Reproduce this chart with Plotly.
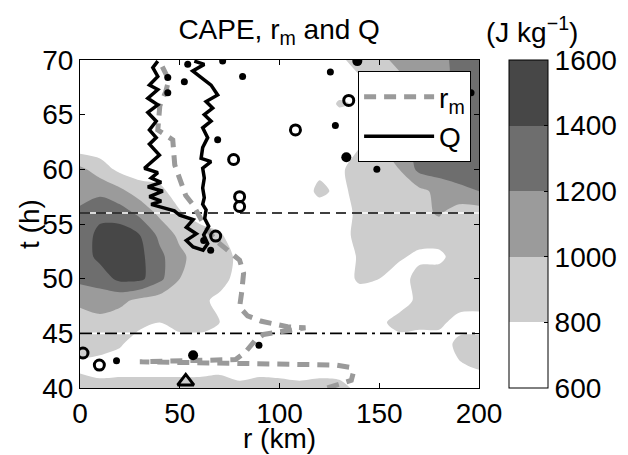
import plotly.graph_objects as go

# ---------------- data ----------------
r_km = [0, 10, 20, 30, 40, 50, 60, 70, 80, 90, 100, 110, 120, 130, 140, 150, 160, 170, 180, 190, 200]
t_h = [40, 42, 44, 46, 48, 50, 52, 54, 56, 58, 60, 62, 64, 66, 68, 70]

cape = [
    [900, 880, 900, 900, 900, 900, 900, 950, 850, 900, 880, 850, 880, 860, 750, 700, 700, 700, 700, 700, 700],   # 40
    [750, 700, 700, 700, 700, 700, 700, 700, 700, 700, 700, 700, 700, 700, 700, 700, 700, 700, 700, 780, 820],   # 42
    [900, 900, 820, 700, 700, 700, 700, 700, 700, 700, 700, 700, 700, 700, 700, 700, 700, 700, 700, 850, 900],   # 44
    [900, 950, 900, 850, 800, 880, 900, 800, 700, 700, 700, 700, 700, 700, 700, 750, 880, 850, 850, 720, 700],   # 46
    [1050, 1080, 1050, 950, 900, 900, 850, 750, 700, 700, 700, 700, 700, 700, 700, 700, 700, 850, 900, 900, 900],  # 48
    [1250, 1300, 1450, 1450, 1250, 1000, 900, 880, 720, 700, 700, 700, 700, 700, 830, 800, 700, 880, 900, 900, 900],  # 50
    [1300, 1450, 1500, 1450, 1250, 1050, 900, 880, 760, 700, 700, 700, 700, 700, 820, 850, 830, 750, 750, 900, 900],  # 52
    [1300, 1450, 1500, 1400, 1150, 950, 900, 820, 700, 700, 700, 700, 700, 720, 860, 900, 880, 900, 900, 900, 900],  # 54
    [1300, 1350, 1300, 1150, 950, 820, 700, 700, 700, 700, 700, 700, 700, 700, 850, 900, 820, 950, 1020, 900, 900],  # 56
    [1000, 1150, 1050, 900, 850, 700, 700, 700, 700, 700, 700, 700, 840, 760, 850, 900, 900, 950, 1050, 1150, 1200],  # 58
    [1050, 900, 750, 700, 700, 700, 700, 700, 700, 700, 700, 700, 760, 760, 900, 900, 1000, 1250, 1300, 1300, 1300],  # 60
    [700, 700, 700, 700, 700, 700, 700, 700, 700, 700, 700, 700, 700, 800, 800, 950, 1100, 1250, 1300, 1350, 1300],  # 62
    [700, 700, 700, 700, 700, 700, 700, 700, 700, 700, 700, 700, 700, 700, 750, 900, 1050, 1200, 1300, 1300, 1350],  # 64
    [700, 700, 700, 700, 700, 700, 700, 700, 700, 700, 700, 700, 700, 820, 780, 900, 1000, 1150, 1250, 1300, 1400],  # 66
    [700, 700, 700, 700, 700, 700, 700, 700, 700, 700, 700, 700, 700, 700, 750, 850, 950, 1050, 1150, 1250, 1350],  # 68
    [700, 700, 700, 700, 700, 700, 700, 700, 700, 700, 700, 700, 700, 750, 900, 950, 1050, 1100, 1150, 1250, 1300],  # 70
]

rm_t = [40.0, 40.7, 41.4, 41.9, 42.1, 42.2, 42.4, 42.6, 43.3, 44.4, 44.9, 45.5, 45.6, 45.8, 46.1, 46.6, 47.4,
        48.7, 50.5, 51.7, 52.6, 53.5, 55.0, 56.8, 57.6, 58.8, 60.4, 61.5, 62.7, 63.6, 64.8, 65.8, 67.1, 68.2, 69.6, 70.0]
rm_r = [124, 136, 137, 135, 128, 80, 30, 78, 83, 88, 92, 113, 104, 99, 91, 84, 80,
        81, 82, 80, 74, 68, 62, 56.5, 53, 50.5, 47.5, 47, 46.5, 39, 39.5, 40, 43, 44.5, 40.7, 40]

# main Q contour (left branch downward, lower blob, right branch upward)
q_r = [39, 36.5, 39, 34.8, 39, 34, 39, 34, 38.2, 34.8, 38.2, 34.8, 39.8, 32.3, 39, 35.7, 40.7, 34, 41.5, 34.8,
       40.7, 35.7, 41.5, 47.3, 50, 56.7, 53.3, 58.3, 53.3, 56.7, 61.7, 64, 62, 64.5, 62.5, 63.2, 61.5, 62.3,
       61.5, 62.3, 61.5, 65.7, 60.7, 61.5, 64, 61.5, 65.7, 62.3, 66.5, 63.2, 69, 65.7, 60, 56.5, 62.3, 57.3]
q_t = [69.9, 69.3, 68.5, 67.7, 67.3, 66.5, 65.9, 65.2, 64.4, 63.6, 62.9, 62.3, 61.3, 60.1, 59.7, 59.2, 58.8, 58.4, 58.0, 57.5,
       57.1, 56.8, 56.5, 56.2, 55.8, 55.4, 54.7, 54.1, 53.5, 52.9, 52.6, 53.2, 54.0, 54.8, 55.5, 56.3, 56.8, 57.4,
       58.3, 59.2, 60.1, 60.7, 61.0, 62.0, 62.9, 63.8, 64.4, 65.0, 65.6, 66.2, 66.8, 67.7, 68.5, 69.0, 69.6, 69.9]

q_dot_r = [54, 52.3, 71.5, 81.5, 125.5, 69, 128, 133, 148.8, 196, 89.7, 18.3, 65.5, 62, 44, 44]
q_dot_t = [69.6, 68.0, 69.9, 68.5, 68.9, 62.7, 64.0, 61.1, 60.0, 67.0, 43.9, 42.5, 52.6, 53.5, 68.4, 67.0]

q_blob_r = [56.7, 139, 133.5]
q_blob_t = [43.0, 69.9, 61.1]

q_loop_r = [77, 80, 80, 68, 108, 134.7, 9.7, 1.5]
q_loop_t = [60.9, 57.5, 56.6, 53.9, 63.6, 66.3, 42.1, 43.2]

q_tri_r = [53]
q_tri_t = [40.6]

t_dashed = 56.0
t_dashdot = 45.0

levels_start, levels_end, levels_size = 600, 1600, 200
band_colors = ["#ffffff", "#cdcdcd", "#9b9b9b", "#6e6e6e", "#474747"]

# ---------------- figure ----------------
FONT = "Liberation Sans, Arial, sans-serif"
FS = 28

cs = []
n = len(band_colors)
for i, c in enumerate(band_colors):
    cs.append([i / n, c])
    cs.append([(i + 1) / n, c])

fig = go.Figure()

fig.add_trace(go.Contour(
    x=r_km, y=t_h, z=cape,
    zmin=levels_start, zmax=levels_end,
    autocontour=False,
    contours=dict(start=levels_start, end=levels_end, size=levels_size, coloring="fill", showlines=False),
    line=dict(width=0, smoothing=0.8),
    colorscale=cs,
    showscale=True,
    showlegend=False,
    hoverinfo="skip",
    colorbar=dict(
        x=1.075, xanchor="left", xref="paper", y=0.5, yanchor="middle", len=1.0, lenmode="fraction",
        thickness=39, thicknessmode="pixels", xpad=0, ypad=0,
        outlinewidth=1, outlinecolor="black",
        tickmode="array", tickvals=[600, 800, 1000, 1200, 1400, 1600],
        ticks="inside", ticklen=4, tickcolor="black",
        tickfont=dict(family=FONT, size=FS, color="black"),
    ),
))

# horizontal reference lines
for yv, dash in [(t_dashed, "10px,6px"), (t_dashdot, "12px,5px,3px,5px")]:
    fig.add_trace(go.Scatter(x=[0, 200], y=[yv, yv], mode="lines",
                             line=dict(color="white", width=1.6), showlegend=False, hoverinfo="skip"))
    fig.add_trace(go.Scatter(x=[0, 200], y=[yv, yv], mode="lines",
                             line=dict(color="black", width=1.6, dash=dash), showlegend=False, hoverinfo="skip"))

fig.add_trace(go.Scatter(x=rm_r, y=rm_t, mode="lines", name="r<sub>m</sub>",
                         line=dict(color="#9a9a9a", width=5, dash="12px,8px")))
fig.add_trace(go.Scatter(x=q_r, y=q_t, mode="lines", name="Q",
                         line=dict(color="black", width=3.5)))
fig.add_trace(go.Scatter(x=q_dot_r, y=q_dot_t, mode="markers", showlegend=False,
                         marker=dict(color="black", size=7, symbol="circle")))
fig.add_trace(go.Scatter(x=q_blob_r, y=q_blob_t, mode="markers", showlegend=False,
                         marker=dict(color="black", size=10, symbol="circle")))
fig.add_trace(go.Scatter(x=q_loop_r, y=q_loop_t, mode="markers", showlegend=False,
                         marker=dict(color="black", size=10, symbol="circle-open", line=dict(width=3, color="black"))))
fig.add_trace(go.Scatter(x=q_tri_r, y=q_tri_t, mode="markers", showlegend=False,
                         marker=dict(color="black", size=14, symbol="triangle-up-open", line=dict(width=3, color="black"))))

axis_common = dict(
    showline=True, linecolor="black", linewidth=1, mirror="ticks",
    ticks="inside", ticklen=5, tickcolor="black", tickwidth=1,
    showgrid=False, zeroline=False, automargin=False,
    tickfont=dict(family=FONT, size=FS, color="black"),
)

txt_font = dict(family=FONT, size=FS, color="black")

fig.update_layout(
    width=628, height=455,
    margin=dict(l=80, r=149, t=60, b=67, autoexpand=False),
    paper_bgcolor="white", plot_bgcolor="white",
    font=txt_font,
    title=dict(text="CAPE, r<sub>m</sub> and Q", x=0.4445, xanchor="center",
               y=0.935, yanchor="middle", yref="container", font=txt_font),
    xaxis=dict(range=[0, 200], tickvals=[0, 50, 100, 150, 200], **axis_common),
    yaxis=dict(range=[40, 70], tickvals=[40, 45, 50, 55, 60, 65, 70], **axis_common),
    legend=dict(x=0.697, y=0.966, xanchor="left", yanchor="top",
                bgcolor="white", bordercolor="black", borderwidth=1,
                font=txt_font, itemwidth=70, tracegroupgap=0),
    showlegend=True,
    annotations=[
        dict(text="(J kg<sup>−1</sup>)", xref="paper", yref="paper", x=1.133, y=1.0,
             xanchor="center", yanchor="bottom", yshift=10, showarrow=False, font=txt_font),
        dict(text="r (km)", xref="paper", yref="paper", x=0.5, y=0.0,
             xanchor="center", yanchor="middle", yshift=-50, showarrow=False, font=txt_font),
        dict(text="t (h)", xref="paper", yref="paper", x=0.0, y=0.5, textangle=-90,
             xanchor="center", yanchor="middle", xshift=-51, showarrow=False, font=txt_font),
    ],
)

fig.write_html("out.html")
